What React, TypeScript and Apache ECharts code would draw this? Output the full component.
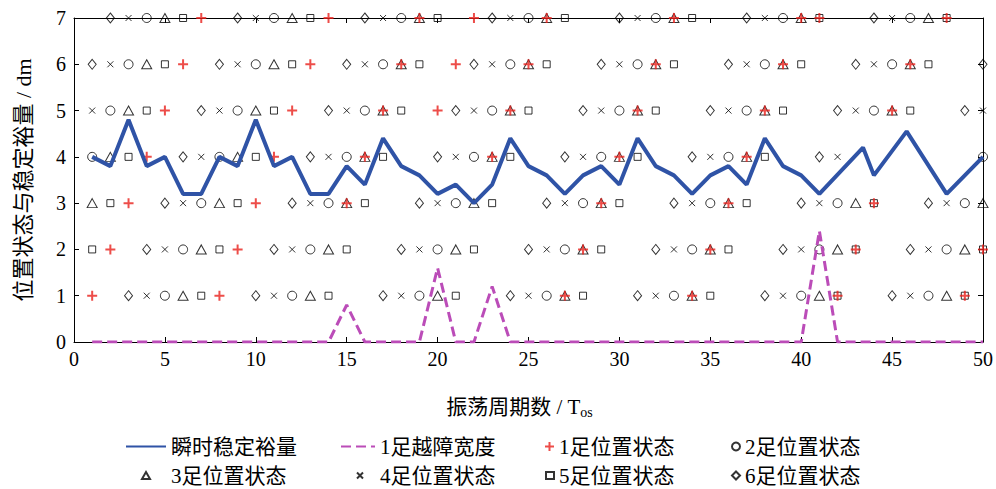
import React, { useEffect, useRef } from "react";
import * as echarts from "echarts";

// Oscillation periods (x)
const periods = [
  1, 2, 3, 4, 5, 6, 7, 8, 9, 10, 11, 12, 13, 14, 15, 16, 17, 18, 19, 20, 21, 22, 23, 24, 25,
  26, 27, 28, 29, 30, 31, 32, 33, 34, 35, 36, 37, 38, 39, 40, 41, 42, 43, 44, 45, 46, 47, 48, 49, 50,
];

// Instantaneous stability margin (vertices of the blue line)
const marginT = [
  1, 2, 3, 4, 5, 6, 7, 8, 9, 10, 11, 12, 13, 14, 15, 16, 17, 18, 19, 20, 21, 22, 23, 24, 25,
  26, 27, 28, 29, 30, 31, 32, 33, 34, 35, 36, 37, 38, 39, 40, 41, 43.4, 44, 45.8, 48, 50,
];
const marginV = [
  4.0, 3.8, 4.8, 3.8, 4.0, 3.2, 3.2, 4.0, 3.8, 4.8, 3.8, 4.0, 3.2, 3.2, 3.8, 3.4, 4.4, 3.8, 3.6, 3.2,
  3.4, 3.0, 3.4, 4.4, 3.8, 3.6, 3.2, 3.6, 3.8, 3.4, 4.4, 3.8, 3.6, 3.2, 3.6, 3.8, 3.4, 4.4, 3.8, 3.6,
  3.2, 4.2, 3.6, 4.55, 3.2, 4.0,
];

// Foot 1 obstacle-crossing width
const obstacleWidth = [
  0, 0, 0, 0, 0, 0, 0, 0, 0, 0, 0, 0, 0, 0, 0.8, 0, 0, 0, 0, 1.6, 0, 0, 1.2, 0, 0,
  0, 0, 0, 0, 0, 0, 0, 0, 0, 0, 0, 0, 0, 0, 0, 2.4, 0, 0, 0, 0, 0, 0, 0, 0, 0,
];

// Foot position states (1..7), null = not shown
const foot1 = [
  1, 2, 3, 4, 5, 6, 7, 1, 2, 3, 4, 5, 6, 7, 3, 4, 5, 6, 7, 5, 6, 7, 4, 5, 6,
  7, 1, 2, 3, 4, 5, 6, 7, 1, 2, 3, 4, 5, 6, 7, 7, 1, 2, 3, 5, 6, null, 7, 1, 2,
];
const foot2 = [
  4, 5, 6, 7, 1, 2, 3, 4, 5, 6, 7, 1, 2, 3, 4, 5, 6, 7, 1, 2, 3, 4, 5, 6, 7,
  1, 2, 3, 4, 5, 6, 7, 1, 2, 3, 4, 5, 6, 7, 1, 2, 3, null, 5, 6, 7, 1, 2, 3, 4,
];
const foot3 = [
  3, 4, 5, 6, 7, 1, 2, 3, 4, 5, 6, 7, 1, 2, 3, 4, 5, 6, 7, 1, 2, 3, 4, 5, 6,
  7, 1, 2, 3, 4, 5, 6, 7, 1, 2, 3, 4, 5, 6, 7, 1, 2, 3, null, 5, 6, 7, 1, 2, 3,
];
const foot4 = [
  5, 6, 7, 1, 2, 3, 4, 5, 6, 7, 1, 2, 3, 4, 5, 6, 7, 1, 2, 3, 4, 5, 6, 7, 1,
  2, 3, 4, 5, 6, 7, 1, 2, 3, 4, 5, 6, 7, 1, 2, 3, 4, 5, 6, 7, 1, 2, 3, null, 5,
];
const foot5 = [
  2, 3, 4, 5, 6, 7, 1, 2, 3, 4, 5, 6, 7, 1, 2, 3, 4, 5, 6, 7, 1, 2, 3, 4, 5,
  6, 7, 1, 2, 3, 4, 5, 6, 7, 1, 2, 3, 4, 5, 6, 7, 1, 2, 3, null, 5, 6, 7, 1, 2,
];
const foot6 = [
  6, 7, 1, 2, 3, 4, 5, 6, 7, 1, 2, 3, 4, 5, 6, 7, 1, 2, 3, 4, 5, 6, 7, 1, 2,
  3, 4, 5, 6, 7, 1, 2, 3, 4, 5, 6, 7, 1, 2, 3, 4, 5, 6, 7, 1, 2, 3, null, 5, 6,
];

const seriesNames = [
  "瞬时稳定裕量",
  "1足越障宽度",
  "1足位置状态",
  "2足位置状态",
  "3足位置状态",
  "4足位置状态",
  "5足位置状态",
  "6足位置状态",
];

const FONT = '"Liberation Serif", "Noto Sans CJK SC", serif';
const PLUS = "path://M5 0 L5 10 M0 5 L10 5";
const CROSS = "path://M0 0 L10 10 M10 0 L0 10";

function toPairs(arr: (number | null)[]) {
  const out: number[][] = [];
  arr.forEach((v, i) => {
    if (v !== null) out.push([periods[i], v]);
  });
  return out;
}

export default function App() {
  const ref = useRef<HTMLDivElement>(null);

  useEffect(() => {
    if (!ref.current) return;
    const chart = echarts.init(ref.current, undefined, { renderer: "svg" });

    const hollow = (color = "#000", w = 1) => ({
      color: "transparent",
      borderColor: color,
      borderWidth: w,
    });

    const scatter = (
      name: string,
      data: (number | null)[],
      symbol: string,
      size: any,
      style: any,
      z = 2
    ) => ({
      name,
      type: "scatter",
      data: toPairs(data),
      symbol,
      symbolSize: size,
      itemStyle: style,
      z,
      silent: true,
    });

    const legendItem = (
      name: string,
      left: number,
      top: number,
      w: number,
      h: number,
      textPad = 0,
      hideSymbol = false
    ) => {
      const l: any = {
        data: [name],
        left,
        top,
        padding: 0,
        itemWidth: w,
        itemHeight: h,
        itemGap: 0,
        selectedMode: false,
        textStyle: {
          fontSize: 21,
          fontFamily: FONT,
          color: "#000",
          padding: [0, 0, 0, textPad],
        },
      };
      if (hideSymbol) {
        l.itemStyle = { color: "transparent", borderColor: "transparent", borderWidth: 0, opacity: 0 };
      }
      return l;
    };

    const axisCommon = {
      axisLine: { show: true, onZero: false, lineStyle: { color: "#000", width: 1 } },
      axisTick: { show: true, inside: true, length: 5, lineStyle: { color: "#000", width: 1 } },
      splitLine: { show: false },
    };

    const option: any = {
      animation: false,
      backgroundColor: "#fff",
      grid: { left: 74, right: 11, top: 18, bottom: 147, containLabel: false },
      xAxis: [
        {
          type: "value",
          min: 0,
          max: 50,
          interval: 5,
          position: "bottom",
          ...axisCommon,
          axisLabel: { color: "#000", fontSize: 20, fontFamily: FONT, margin: 7 },
          name: "振荡周期数 / T{sub|os}",
          nameLocation: "middle",
          nameGap: 52,
          nameTextStyle: {
            color: "#000",
            fontSize: 21,
            fontFamily: FONT,
            lineHeight: 26,
            padding: [0, 18, 0, 0],
            rich: {
              sub: { fontSize: 14, fontFamily: FONT, color: "#000", lineHeight: 26, padding: [10, 0, 0, 0] },
            },
          },
        },
        {
          type: "value",
          min: 0,
          max: 50,
          interval: 5,
          position: "top",
          ...axisCommon,
          axisLabel: { show: false },
        },
      ],
      yAxis: [
        {
          type: "value",
          min: 0,
          max: 7,
          interval: 1,
          position: "left",
          ...axisCommon,
          axisLabel: { color: "#000", fontSize: 20, fontFamily: FONT, margin: 8 },
          name: "位置状态与稳定裕量 / dm",
          nameLocation: "middle",
          nameGap: 40,
          nameTextStyle: { color: "#000", fontSize: 22, fontFamily: FONT },
        },
        {
          type: "value",
          min: 0,
          max: 7,
          interval: 1,
          position: "right",
          ...axisCommon,
          axisLabel: { show: false },
        },
      ],
      legend: [
        legendItem(seriesNames[0], 125, 436, 40, 8, 0, true),
        legendItem(seriesNames[1], 340, 436, 34, 8, 0, true),
        legendItem(seriesNames[2], 544, 436, 9, 9),
        legendItem(seriesNames[3], 731, 436, 8, 8),
        legendItem(seriesNames[4], 141, 465, 8, 7, 16),
        legendItem(seriesNames[5], 356, 465, 6, 6, 12),
        legendItem(seriesNames[6], 545, 465, 8, 7),
        legendItem(seriesNames[7], 731, 465, 8, 8),
      ],
      series: [
        scatter(seriesNames[3], foot2, "circle", 9, hollow()),
        scatter(seriesNames[4], foot3, "triangle", [10, 9], hollow()),
        scatter(seriesNames[5], foot4, CROSS, 6, hollow("#000", 1)),
        scatter(seriesNames[6], foot5, "rect", 7, hollow()),
        scatter(seriesNames[7], foot6, "diamond", [8, 10], hollow()),
        scatter(seriesNames[2], foot1, PLUS, 10, hollow("#e8201c", 2), 3),
        {
          name: seriesNames[1],
          type: "line",
          data: obstacleWidth.map((v, i) => [periods[i], v]),
          symbol: "none",
          z: 4,
          silent: true,
          lineStyle: { color: "#bb4cb8", width: 3, type: [10, 5] },
          itemStyle: { color: "#bb4cb8" },
        },
        {
          name: seriesNames[0],
          type: "line",
          data: marginT.map((t, i) => [t, marginV[i]]),
          symbol: "none",
          z: 5,
          silent: true,
          lineStyle: { color: "#2f53a6", width: 4 },
          itemStyle: { color: "#2f53a6" },
        },
      ],
    };

    chart.setOption(option);
    return () => chart.dispose();
  }, []);

  return (
    <div
      ref={ref}
      style={{ position: "absolute", left: 0, top: 0, width: 996, height: 489, background: "#fff" }}
    />
  );
}
